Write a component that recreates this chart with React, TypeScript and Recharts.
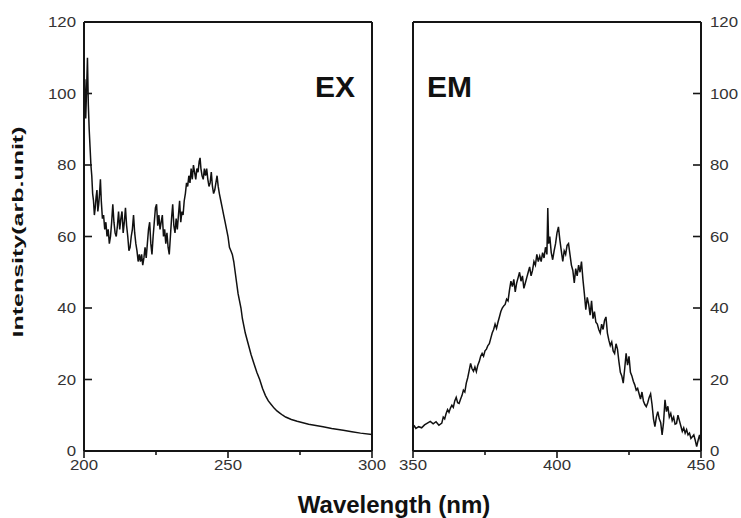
import React from "react";
import { LineChart, Line, XAxis, YAxis, ReferenceLine } from "recharts";

const exWave = [
  200.0, 200.3, 200.6, 200.9, 201.2, 201.5, 201.8, 202.1, 202.4, 202.7, 203.0, 203.3, 203.6, 203.9, 204.2, 204.5, 204.8,
  205.1, 205.4, 205.7, 206.0, 206.4, 206.8, 207.2, 207.6, 208.0, 208.4, 208.8, 209.2, 209.6, 210.0, 210.4, 210.8, 211.2,
  211.6, 212.0, 212.4, 212.8, 213.2, 213.6, 214.0, 214.4, 214.8, 215.2, 215.6, 216.0, 216.4, 216.8, 217.2, 217.6, 218.0,
  218.4, 218.8, 219.2, 219.6, 220.0, 220.4, 220.8, 221.2, 221.6, 222.0, 222.4, 222.8, 223.2, 223.6, 224.0, 224.4, 224.8,
  225.2, 225.6, 226.0, 226.4, 226.8, 227.2, 227.6, 228.0, 228.4, 228.8, 229.2, 229.6, 230.0, 230.4, 230.8, 231.2, 231.6,
  232.0, 232.4, 232.8, 233.2, 233.6, 234.0, 234.4, 234.8, 235.2, 235.6, 236.0, 236.4, 236.8, 237.2, 237.6, 238.0, 238.4,
  238.8, 239.2, 239.6, 240.0, 240.3, 240.6, 241.0, 241.4, 241.8, 242.2, 242.6, 243.0, 243.4, 243.8, 244.2, 244.6, 245.0,
  245.4, 245.8, 246.2, 246.6, 247.0, 247.5, 248.0, 248.5, 249.0, 249.5, 250.0, 250.5, 251.0, 251.5, 252.0, 252.5, 253.0,
  253.5, 254.0, 254.5, 255.0, 256, 257, 258, 259, 260, 261, 262, 263, 264, 265, 266, 267, 268, 269, 270, 272, 274, 276,
  278, 280, 283, 286, 290, 293, 296, 300,
];
const exIntensity = [
  96, 104, 93, 101, 110, 97, 90, 85, 80, 77, 72, 70, 66, 68, 71, 73, 67,
  69, 72, 76, 70, 65, 66, 62, 64, 60, 62, 58, 60, 64, 69, 64, 61, 60,
  63, 67, 62, 65, 67, 61, 64, 68, 63, 60, 56, 57, 60, 62, 66, 61, 58,
  56, 53, 55, 53, 55, 52, 54, 57, 54, 58, 62, 64, 58, 55, 60, 64, 68,
  69, 63, 66, 62, 64, 66, 60, 62, 58, 61, 57, 55, 60, 65, 69, 63, 61,
  65, 62, 66, 70, 64, 67, 66, 70, 72, 75, 74, 77, 75, 79, 76, 80, 78,
  76, 79, 78, 81, 82, 79, 77, 76, 79, 77, 79, 76, 74, 75, 78, 74, 72,
  73, 75, 77, 74, 72, 70, 68, 66, 64, 62, 60, 57, 56, 55, 53, 50, 47,
  44, 42, 40, 37, 33, 30, 27, 24.5, 22, 20, 17.5, 15.5, 14, 13, 12, 11.2, 10.6, 10, 9.5, 8.8, 8.3, 7.9,
  7.5, 7.2, 6.8, 6.3, 5.8, 5.4, 5.0, 4.6,
];

const emWave = [
  350, 350.5, 351, 352, 353, 354, 355, 356, 357, 358, 359, 360, 360.5, 361, 361.5, 362, 362.5, 363, 363.5, 364, 364.5,
  365, 365.5, 366, 366.5, 367, 367.5, 368, 368.5, 369, 369.5, 370, 370.5, 371, 371.5, 372, 372.5, 373, 373.5, 374, 374.5,
  375, 375.5, 376, 376.5, 377, 377.5, 378, 378.5, 379, 379.5, 380, 380.5, 381, 381.5, 382, 382.5, 383, 383.5, 384, 384.5,
  385, 385.5, 386, 386.5, 387, 387.5, 388, 388.5, 389, 389.5, 390, 390.5, 391, 391.5, 392, 392.5, 393, 393.5, 394, 394.5,
  395, 395.5, 396, 396.5, 396.8, 397.1, 397.5, 398, 398.5, 399, 399.5, 400, 400.5, 401, 401.5, 402, 402.5, 403, 403.5,
  404, 404.5, 405, 405.5, 406, 406.5, 407, 407.5, 408, 408.5, 409, 409.5, 410, 410.5, 411, 411.5, 412, 412.5, 413, 413.5,
  414, 414.5, 415, 415.5, 416, 416.5, 417, 417.5, 418, 418.5, 419, 419.5, 420, 420.5, 421, 421.5, 422, 422.5, 423, 423.5,
  424, 424.5, 425, 425.5, 426, 426.5, 427, 427.5, 428, 428.5, 429, 429.5, 430, 430.5, 431, 431.5, 432, 432.5, 433, 433.5,
  434, 434.5, 435, 435.5, 436, 436.5, 437, 437.5, 438, 438.5, 439, 439.5, 440, 440.5, 441, 441.5, 442, 442.5, 443, 443.5,
  444, 444.5, 445, 445.5, 446, 446.5, 447, 447.5, 448, 448.5, 449, 449.5, 450,
];
const emIntensity = [
  6.5, 7, 6.3, 6.8, 6.5, 7.3, 7.8, 8.3, 7.6, 8.2, 7.2, 7.8, 9.5, 9, 10.5, 11.6, 10.8, 12, 12.8, 12.2, 14,
  15, 13.5, 13.3, 14.5, 15.5, 17, 16.5, 19, 20.5, 22.5, 24.5, 23, 22.3, 23.5, 22.2, 24, 25, 26.5, 27.3, 26.5,
  28, 28.5, 29.5, 30, 31.5, 33, 34, 35.5, 34.3, 36, 37.5, 39, 40, 40.6, 41, 42.5, 42, 45, 47.5, 46,
  48, 44.5, 47, 48.5, 50, 47.5, 49, 45.5, 47, 48.5, 50, 51.5, 49, 50.5, 53, 52, 55, 53, 54.5, 53,
  55.5, 54, 57, 55, 68, 58, 60, 55.5, 53.5, 56, 58, 61, 62.7, 59, 56, 53, 56, 55, 57.5,
  58, 55, 52, 50.5, 47, 51, 49, 52, 50, 53, 48, 44, 39.5, 43, 41, 38, 42, 37, 39, 36,
  35.5, 34, 33, 35.5, 34, 36.5, 37.5, 33, 31, 29.5, 30.5, 28, 27.3, 30, 28.5, 25, 22, 21, 19, 23,
  27.3, 24, 26.5, 22, 21, 19.5, 18.5, 17, 17.5, 16, 14.5, 16.5, 14, 13, 12.4, 13.5, 15, 16, 13, 9,
  6.8, 9.5, 11, 9, 8, 4.5, 8, 14.3, 11, 12.5, 9.5, 10.5, 8.5, 9.5, 7.5, 7.7, 10, 8.5, 7, 5.5,
  6.5, 5, 6, 4.5, 5, 3.5, 4, 4.5, 3, 1.2, 3, 4.5, 2,
];

const exTicks = [200, 225, 250, 275, 300];
const emTicks = [350, 375, 400, 425, 450];
const yTicks = [0, 20, 40, 60, 80, 100, 120];

const exData = exWave.map((w, i) => ({ w, v: exIntensity[i] }));
const emData = emWave.map((w, i) => ({ w, v: emIntensity[i] }));

const FONT = "Arial, 'Liberation Sans', Helvetica, sans-serif";
const AXIS = "#151515";
const LABEL = "#333";

const XTick = (props: any) => {
  const { x, y, payload } = props;
  const major = payload.value % 50 === 0;
  return (
    <g>
      <line x1={x} y1={y} x2={x} y2={y + (major ? 7 : 4)} stroke={AXIS} strokeWidth={1.6} />
      {major && (
        <g transform={`translate(${x},${y + 19})`}>
          <text transform="scale(1.2,1)" textAnchor="middle" fontSize={14} fontFamily={FONT} fill={LABEL}>
            {payload.value}
          </text>
        </g>
      )}
    </g>
  );
};

const LeftYTick = (props: any) => {
  const { x, y, payload } = props;
  return (
    <g>
      <line x1={x} y1={y} x2={x + 8} y2={y} stroke={AXIS} strokeWidth={1.6} />
      <g transform={`translate(${x - 8},${y + 5})`}>
        <text transform="scale(1.2,1)" textAnchor="end" fontSize={14} fontFamily={FONT} fill={LABEL}>
          {payload.value}
        </text>
      </g>
    </g>
  );
};

const RightYTick = (props: any) => {
  const { x, y, payload } = props;
  return (
    <g>
      <line x1={x} y1={y} x2={x - 8} y2={y} stroke={AXIS} strokeWidth={1.6} />
      <g transform={`translate(${x + 9},${y + 5})`}>
        <text transform="scale(1.2,1)" textAnchor="start" fontSize={14} fontFamily={FONT} fill={LABEL}>
          {payload.value}
        </text>
      </g>
    </g>
  );
};

export default function App() {
  return (
    <div style={{ position: "absolute", left: 0, top: 0, width: 741, height: 518, background: "#fff" }}>
      <div style={{ position: "absolute", left: 0, top: 0 }}>
        <LineChart width={400} height={518} data={exData} margin={{ top: 22, right: 28, left: 0, bottom: 0 }}>
          <XAxis
            dataKey="w"
            type="number"
            domain={[200, 300]}
            ticks={exTicks}
            interval={0}
            height={67}
            tickSize={0}
            tickMargin={0}
            tickLine={false}
            axisLine={{ stroke: AXIS, strokeWidth: 2 }}
            tick={<XTick />}
            allowDataOverflow
          />
          <YAxis
            type="number"
            domain={[0, 120]}
            ticks={yTicks}
            interval={0}
            width={84}
            tickSize={0}
            tickMargin={0}
            tickLine={false}
            axisLine={{ stroke: AXIS, strokeWidth: 2 }}
            tick={<LeftYTick />}
            allowDataOverflow
          />
          <ReferenceLine y={120} stroke={AXIS} strokeWidth={2} />
          <ReferenceLine x={300} stroke={AXIS} strokeWidth={2} />
          <Line
            type="linear"
            dataKey="v"
            stroke="#111"
            strokeWidth={1.5}
            dot={false}
            isAnimationActive={false}
          />
        </LineChart>
      </div>
      <div style={{ position: "absolute", left: 380, top: 0 }}>
        <LineChart width={361} height={518} data={emData} margin={{ top: 22, right: 0, left: 33, bottom: 0 }}>
          <XAxis
            dataKey="w"
            type="number"
            domain={[350, 450]}
            ticks={emTicks}
            interval={0}
            height={67}
            tickSize={0}
            tickMargin={0}
            tickLine={false}
            axisLine={{ stroke: AXIS, strokeWidth: 2 }}
            tick={<XTick />}
            allowDataOverflow
          />
          <YAxis
            orientation="right"
            type="number"
            domain={[0, 120]}
            ticks={yTicks}
            interval={0}
            width={40}
            tickSize={0}
            tickMargin={0}
            tickLine={false}
            axisLine={{ stroke: AXIS, strokeWidth: 2 }}
            tick={<RightYTick />}
            allowDataOverflow
          />
          <ReferenceLine y={120} stroke={AXIS} strokeWidth={2} />
          <ReferenceLine x={350} stroke={AXIS} strokeWidth={2} />
          <Line
            type="linear"
            dataKey="v"
            stroke="#111"
            strokeWidth={1.5}
            dot={false}
            isAnimationActive={false}
          />
        </LineChart>
      </div>
      <svg
        width={741}
        height={518}
        style={{ position: "absolute", left: 0, top: 0, pointerEvents: "none" }}
      >
        <text x={315} y={97} fontSize={30} fontWeight="bold" fontFamily={FONT} fill="#111">
          EX
        </text>
        <text x={427} y={97} fontSize={30} fontWeight="bold" fontFamily={FONT} fill="#111">
          EM
        </text>
        <text
          x={394}
          y={513}
          textAnchor="middle"
          fontSize={24}
          fontWeight="bold"
          fontFamily={FONT}
          fill="#111"
        >
          Wavelength (nm)
        </text>
        <text
          transform="translate(23,232) rotate(-90) scale(1,0.62)"
          textAnchor="middle"
          fontSize={25}
          fontWeight="bold"
          fontFamily={FONT}
          fill="#111"
        >
          Intensity(arb.unit)
        </text>
      </svg>
    </div>
  );
}
